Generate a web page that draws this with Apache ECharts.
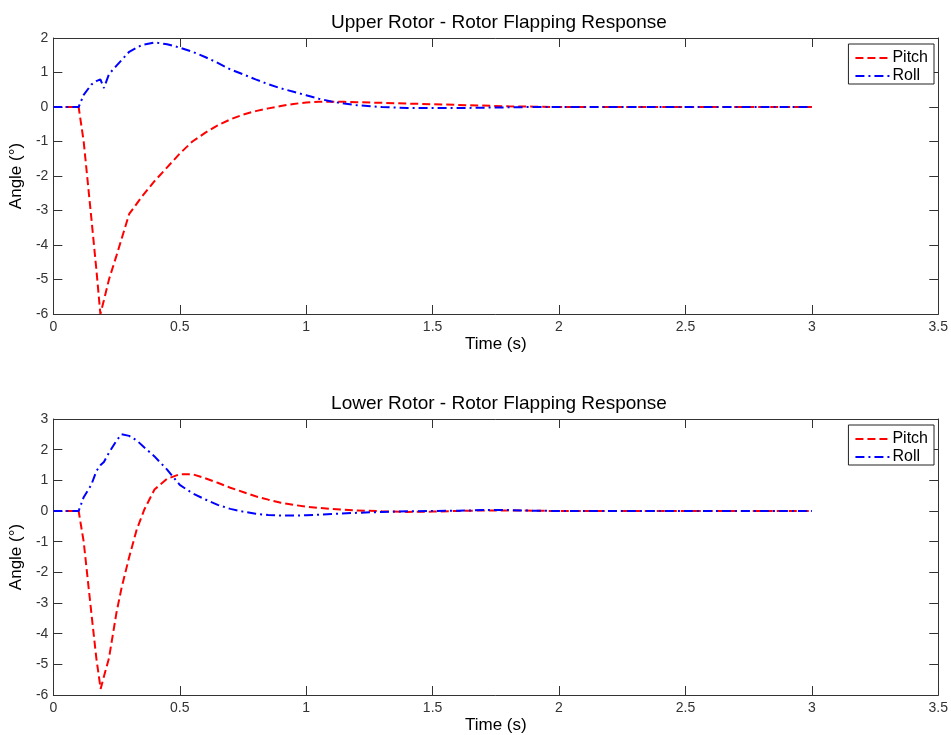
<!DOCTYPE html>
<html lang="en">
<head>
    <meta charset="UTF-8">
    <title>Rotor Flapping Response</title>
    <script src="https://cdn.jsdelivr.net/npm/echarts@6/dist/echarts.min.js"></script>
    <style>
        html, body { margin: 0; padding: 0; background: #fff; }
    </style>
</head>
<body>
<div id="main" style="width: 951px;height:735px;"></div>
<script type="text/javascript">
    // upper rotor
    var upperTime  = [0, 0.1, 0.12, 0.15, 0.17, 0.186, 0.2, 0.22, 0.25, 0.3, 0.35, 0.4, 0.45, 0.5, 0.55, 0.6, 0.65, 0.7, 0.75, 0.8, 0.85, 0.9, 0.95, 1.0, 1.05, 1.1, 1.15, 1.2, 1.3, 1.4, 1.5, 1.6, 1.7, 1.8, 1.9, 2.0, 2.2, 2.5, 3.0];
    var upperPitch = [0, 0, -1.0, -3.2, -4.7, -6.0, -5.6, -5.0, -4.3, -3.1, -2.6, -2.15, -1.75, -1.35, -1.0, -0.75, -0.53, -0.36, -0.22, -0.12, -0.04, 0.03, 0.09, 0.13, 0.15, 0.15, 0.15, 0.14, 0.12, 0.1, 0.08, 0.06, 0.04, 0.02, 0.01, 0, 0, 0, 0];
    var upperRoll  = [0, 0, 0.35, 0.65, 0.75, 0.8, 0.55, 0.95, 1.2, 1.6, 1.8, 1.87, 1.82, 1.72, 1.6, 1.45, 1.28, 1.09, 0.95, 0.8, 0.66, 0.54, 0.44, 0.34, 0.24, 0.16, 0.1, 0.05, 0.0, -0.03, -0.03, -0.03, -0.02, -0.01, 0, 0, 0, 0, 0];

    // lower rotor
    var lowerTime  = [0, 0.1, 0.12, 0.15, 0.17, 0.187, 0.2, 0.22, 0.25, 0.27, 0.3, 0.33, 0.36, 0.4, 0.45, 0.5, 0.55, 0.6, 0.65, 0.7, 0.75, 0.8, 0.85, 0.9, 0.95, 1.0, 1.05, 1.1, 1.2, 1.3, 1.4, 1.5, 1.6, 1.7, 1.8, 1.9, 2.0, 2.5, 3.0];
    var lowerPitch = [0, 0, -1.0, -3.3, -4.8, -5.8, -5.4, -4.8, -3.3, -2.5, -1.5, -0.6, 0.05, 0.7, 1.05, 1.2, 1.2, 1.07, 0.92, 0.76, 0.62, 0.48, 0.37, 0.27, 0.2, 0.14, 0.1, 0.07, 0.02, -0.01, -0.03, -0.02, 0.0, 0.02, 0.02, 0.01, 0, 0, 0];
    var lowerRoll  = [0, 0, 0.45, 0.85, 1.3, 1.5, 1.6, 1.9, 2.3, 2.5, 2.45, 2.3, 2.07, 1.78, 1.35, 0.85, 0.58, 0.38, 0.2, 0.07, -0.02, -0.09, -0.13, -0.15, -0.15, -0.14, -0.12, -0.1, -0.06, -0.03, -0.01, 0, 0.01, 0.03, 0.03, 0.01, 0, 0, 0];

    var titles = ['Upper Rotor - Rotor Flapping Response', 'Lower Rotor - Rotor Flapping Response'];
    var yMin = [-6, -6];
    var yMax = [2, 3];

    var font = 'Liberation Sans, Arial, sans-serif';
    var boxColor = '#333';

    function pairs(t, v) {
        return t.map(function (x, i) { return [x, v[i]]; });
    }

    var grids = [
        {left: 51, right: 11, top: 38, height: 276},
        {left: 51, right: 11, top: 419, height: 277}
    ];

    var xAxes = [], yAxes = [], series = [], legends = [], titleList = [];
    for (var g = 0; g < 2; g++) {
        // bottom and top x axes (top one only draws the box and ticks)
        ['bottom', 'top'].forEach(function (pos) {
            xAxes.push({
                type: 'value', gridIndex: g, position: pos,
                min: 0, max: 3.5, interval: 0.5,
                name: pos === 'bottom' ? 'Time (s)' : '',
                nameLocation: 'middle', nameGap: 22,
                nameTextStyle: {fontFamily: font, fontSize: 17, color: '#000'},
                axisLine: {show: true, onZero: false, lineStyle: {color: boxColor, width: 1}},
                axisTick: {show: true, inside: true, length: 9, lineStyle: {color: boxColor}},
                axisLabel: {show: pos === 'bottom', fontFamily: font, fontSize: 14, color: '#333', margin: 6},
                splitLine: {show: false}
            });
        });
        ['left', 'right'].forEach(function (pos) {
            yAxes.push({
                type: 'value', gridIndex: g, position: pos,
                min: yMin[g], max: yMax[g], interval: 1,
                name: pos === 'left' ? 'Angle (\u00B0)' : '',
                nameLocation: 'middle', nameGap: 23, nameRotate: 90,
                nameTextStyle: {fontFamily: font, fontSize: 17, color: '#000'},
                axisLine: {show: true, onZero: false, lineStyle: {color: boxColor, width: 1}},
                axisTick: {show: true, inside: true, length: 9, lineStyle: {color: boxColor}},
                axisLabel: {show: pos === 'left', fontFamily: font, fontSize: 14, color: '#333', margin: 5},
                splitLine: {show: false}
            });
        });
        var t = g === 0 ? upperTime : lowerTime;
        var p = g === 0 ? upperPitch : lowerPitch;
        var r = g === 0 ? upperRoll : lowerRoll;
        series.push({
            name: 'Pitch', type: 'line', xAxisIndex: g * 2, yAxisIndex: g * 2,
            data: pairs(t, p), symbol: 'none', smooth: false,
            lineStyle: {color: '#ff0000', width: 2, type: [8, 4]},
            itemStyle: {color: '#ff0000'}
        });
        series.push({
            name: 'Roll', type: 'line', xAxisIndex: g * 2, yAxisIndex: g * 2,
            data: pairs(t, r), symbol: 'none', smooth: false,
            lineStyle: {color: '#0000ff', width: 2, type: [9, 4, 2, 4]},
            itemStyle: {color: '#0000ff'}
        });
        legends.push({
            data: ['Pitch', 'Roll'], orient: 'vertical',
            right: 17, top: grids[g].top + 6,
            backgroundColor: '#fff', borderColor: '#222', borderWidth: 1,
            padding: [6, 6, 0, 6], itemGap: 2, itemWidth: 34, itemHeight: 14,
            itemStyle: {opacity: 0},
            textStyle: {fontFamily: font, fontSize: 16, color: '#000', padding: [0, 0, 0, -2]}
        });
        titleList.push({
            text: titles[g], left: 494, top: grids[g].top - 30, textAlign: 'center',
            textStyle: {fontFamily: font, fontSize: 19, fontWeight: 'normal', color: '#000'}
        });
    }

    var myChart = echarts.init(document.getElementById('main'));
    myChart.setOption({
        animation: false,
        backgroundColor: '#fff',
        title: titleList,
        grid: grids,
        xAxis: xAxes,
        yAxis: yAxes,
        legend: legends,
        series: series
    });
</script>
</body>
</html>
